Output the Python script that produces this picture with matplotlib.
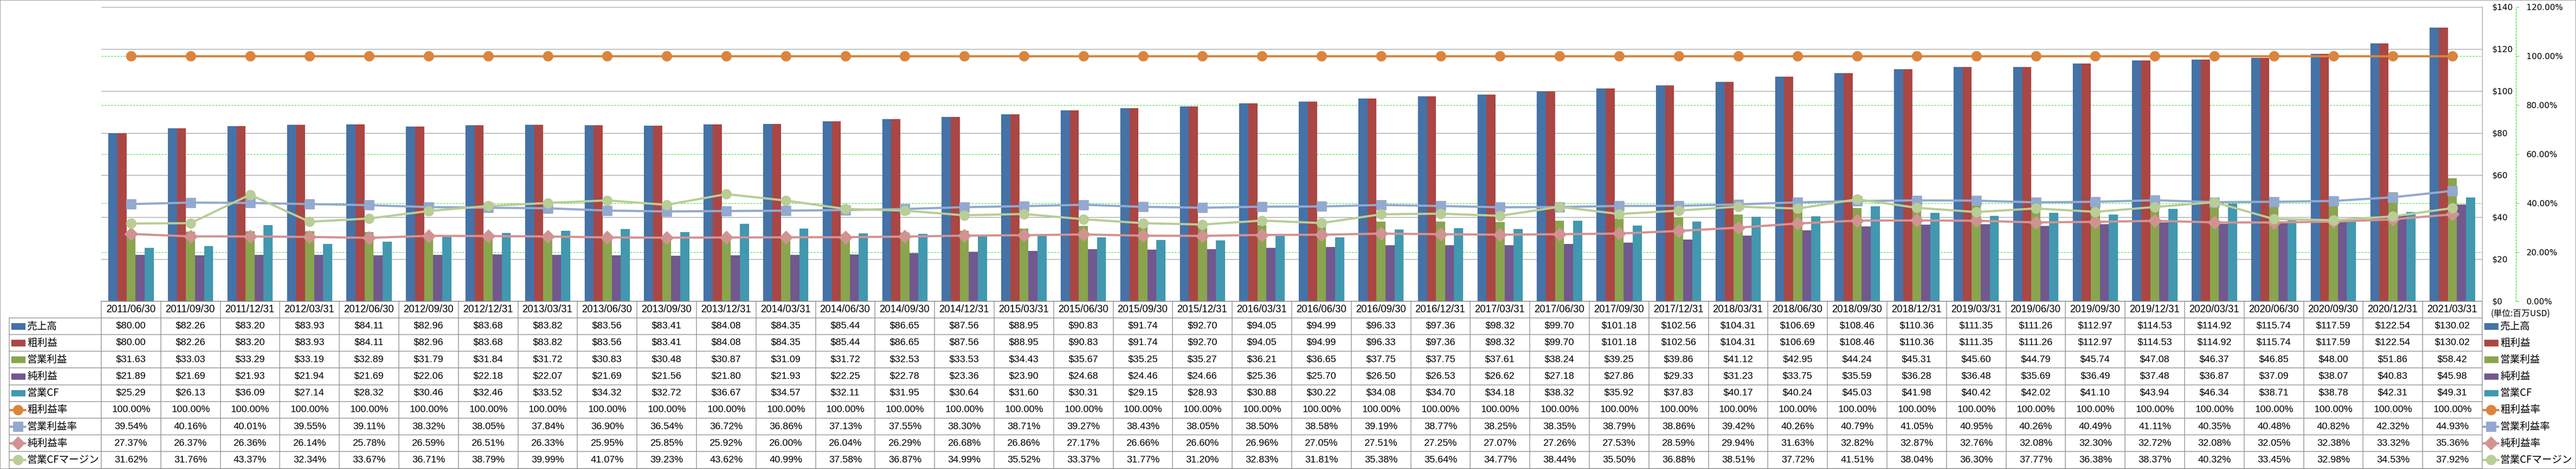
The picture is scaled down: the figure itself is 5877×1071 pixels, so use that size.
# %%
import matplotlib
matplotlib.use('Agg')
import matplotlib.pyplot as plt
from matplotlib.transforms import blended_transform_factory
from matplotlib.patches import Rectangle

plt.rcParams['font.family'] = ['Liberation Sans', 'Noto Sans CJK JP']

# %%
# 決算データ (百万USD)
dates = ['2011/06/30', '2011/09/30', '2011/12/31', '2012/03/31', '2012/06/30', '2012/09/30',
         '2012/12/31', '2013/03/31', '2013/06/30', '2013/09/30', '2013/12/31', '2014/03/31',
         '2014/06/30', '2014/09/30', '2014/12/31', '2015/03/31', '2015/06/30', '2015/09/30',
         '2015/12/31', '2016/03/31', '2016/06/30', '2016/09/30', '2016/12/31', '2017/03/31',
         '2017/06/30', '2017/09/30', '2017/12/31', '2018/03/31', '2018/06/30', '2018/09/30',
         '2018/12/31', '2019/03/31', '2019/06/30', '2019/09/30', '2019/12/31', '2020/03/31',
         '2020/06/30', '2020/09/30', '2020/12/31', '2021/03/31']

sales = [80.00, 82.26, 83.20, 83.93, 84.11, 82.96, 83.68, 83.82, 83.56, 83.41,
         84.08, 84.35, 85.44, 86.65, 87.56, 88.95, 90.83, 91.74, 92.70, 94.05,
         94.99, 96.33, 97.36, 98.32, 99.70, 101.18, 102.56, 104.31, 106.69, 108.46,
         110.36, 111.35, 111.26, 112.97, 114.53, 114.92, 115.74, 117.59, 122.54, 130.02]
gross_profit = [80.00, 82.26, 83.20, 83.93, 84.11, 82.96, 83.68, 83.82, 83.56, 83.41,
                84.08, 84.35, 85.44, 86.65, 87.56, 88.95, 90.83, 91.74, 92.70, 94.05,
                94.99, 96.33, 97.36, 98.32, 99.70, 101.18, 102.56, 104.31, 106.69, 108.46,
                110.36, 111.35, 111.26, 112.97, 114.53, 114.92, 115.74, 117.59, 122.54, 130.02]
op_income = [31.63, 33.03, 33.29, 33.19, 32.89, 31.79, 31.84, 31.72, 30.83, 30.48,
             30.87, 31.09, 31.72, 32.53, 33.53, 34.43, 35.67, 35.25, 35.27, 36.21,
             36.65, 37.75, 37.75, 37.61, 38.24, 39.25, 39.86, 41.12, 42.95, 44.24,
             45.31, 45.60, 44.79, 45.74, 47.08, 46.37, 46.85, 48.00, 51.86, 58.42]
net_income = [21.89, 21.69, 21.93, 21.94, 21.69, 22.06, 22.18, 22.07, 21.69, 21.56,
              21.80, 21.93, 22.25, 22.78, 23.36, 23.90, 24.68, 24.46, 24.66, 25.36,
              25.70, 26.50, 26.53, 26.62, 27.18, 27.86, 29.33, 31.23, 33.75, 35.59,
              36.28, 36.48, 35.69, 36.49, 37.48, 36.87, 37.09, 38.07, 40.83, 45.98]
op_cf = [25.29, 26.13, 36.09, 27.14, 28.32, 30.46, 32.46, 33.52, 34.32, 32.72,
         36.67, 34.57, 32.11, 31.95, 30.64, 31.60, 30.31, 29.15, 28.93, 30.88,
         30.22, 34.08, 34.70, 34.18, 38.32, 35.92, 37.83, 40.17, 40.24, 45.03,
         41.98, 40.42, 42.02, 41.10, 43.94, 46.34, 38.71, 38.78, 42.31, 49.31]

# 比率 (%)
gross_margin = [100.00] * 40
op_margin = [39.54, 40.16, 40.01, 39.55, 39.11, 38.32, 38.05, 37.84, 36.90, 36.54,
             36.72, 36.86, 37.13, 37.55, 38.30, 38.71, 39.27, 38.43, 38.05, 38.50,
             38.58, 39.19, 38.77, 38.25, 38.35, 38.79, 38.86, 39.42, 40.26, 40.79,
             41.05, 40.95, 40.26, 40.49, 41.11, 40.35, 40.48, 40.82, 42.32, 44.93]
net_margin = [27.37, 26.37, 26.36, 26.14, 25.78, 26.59, 26.51, 26.33, 25.95, 25.85,
              25.92, 26.00, 26.04, 26.29, 26.68, 26.86, 27.17, 26.66, 26.60, 26.96,
              27.05, 27.51, 27.25, 27.07, 27.26, 27.53, 28.59, 29.94, 31.63, 32.82,
              32.87, 32.76, 32.08, 32.30, 32.72, 32.08, 32.05, 32.38, 33.32, 35.36]
cf_margin = [31.62, 31.76, 43.37, 32.34, 33.67, 36.71, 38.79, 39.99, 41.07, 39.23,
             43.62, 40.99, 37.58, 36.87, 34.99, 35.52, 33.37, 31.77, 31.20, 32.83,
             31.81, 35.38, 35.64, 34.77, 38.44, 35.50, 36.88, 38.51, 37.72, 41.51,
             38.04, 36.30, 37.77, 36.38, 38.37, 40.32, 33.45, 32.98, 34.53, 37.92]

bar_names = ['売上高', '粗利益', '営業利益', '純利益', '営業CF']
line_names = ['粗利益率', '営業利益率', '純利益率', '営業CFマージン']
bar_data = [sales, gross_profit, op_income, net_income, op_cf]
line_data = [gross_margin, op_margin, net_margin, cf_margin]

bar_colors = ['#4572A7', '#AA4643', '#89A54E', '#71588F', '#4198AF']
line_colors = ['#DB843D', '#93A9CF', '#D19392', '#B9CD96']
line_markers = ['o', 's', 'D', 'o']
marker_sizes = [16, 15.5, 15, 16]

# %%
W, H = 5877, 1071
fig = plt.figure(figsize=(W / 100, H / 100), dpi=100)
fig.patches.append(Rectangle((0, 0), 1, 1, transform=fig.transFigure, fill=False,
                             edgecolor='#8c8c8c', lw=1.5))

x_left, x_right = 231, 5663
y_top, y_bottom = 15.5, 687.5
ax = fig.add_axes([x_left / W, 1 - y_bottom / H, (x_right - x_left) / W, (y_bottom - y_top) / H])
ax2 = ax.twinx()

n = len(dates)
xs = list(range(n))
bw = 0.152
for k, (vals, col) in enumerate(zip(bar_data, bar_colors)):
    ax.bar([x + (k - 2) * bw for x in xs], vals, width=bw, color=col, zorder=2)

# 第2軸のグリッド (緑の破線) は棒の後ろに
green = '#00e000'
trans = blended_transform_factory(ax.transAxes, ax2.transData)
for v in [20, 40, 60, 80, 100]:
    ax.plot([0, 1], [v, v], transform=trans, color=green, lw=0.8,
            ls=(0, (4, 2.5)), zorder=1)

for vals, col, mk, ms in zip(line_data, line_colors, line_markers, marker_sizes):
    ax2.plot(xs, vals, color=col, lw=3.6, marker=mk, ms=ms, mfc=col, mec=col, zorder=3)

ax.set_xlim(-0.5, n - 0.5)
ax.set_ylim(0, 140)
ax2.set_ylim(0, 120)
ax.set_xticks([])

ax.set_yticks(range(0, 141, 20))
ax.yaxis.grid(True, color='#8a8a8a', lw=0.8)
ax.set_axisbelow(True)
ax.yaxis.tick_right()
ax.yaxis.set_major_formatter(lambda v, p: f'${v:.0f}')
ax.tick_params(axis='y', length=0, pad=16, labelsize=13.5, labelfontfamily='DejaVu Sans')

ax2.set_yticks(range(0, 121, 20))
ax2.yaxis.set_major_formatter(lambda v, p: f'{v:.2f}%')
ax2.spines['right'].set_position(('outward', 55.5))
ax2.spines['right'].set_color(green)
ax2.spines['right'].set_linestyle((0, (4, 2.5)))
ax2.spines['right'].set_linewidth(0.8)
ax2.tick_params(axis='y', length=5, width=0.8, color=green, pad=12,
                labelsize=13.5, labelfontfamily='DejaVu Sans', labelcolor='black')

for s in ['top', 'left']:
    ax.spines[s].set_visible(False)
ax.spines['right'].set_color('#8a8a8a')
ax.spines['bottom'].set_color('#8a8a8a')
for s in ['top', 'left', 'bottom']:
    ax2.spines[s].set_visible(False)

# %%
# データテーブル
t_top, t_bottom = 687.5, 1069.5
tax = fig.add_axes([x_left / W, 1 - t_bottom / H, (x_right - x_left) / W, (t_bottom - t_top) / H])
tax.set_xlim(-0.5, n - 0.5)
tax.set_ylim(10, 0)
tax.axis('off')

grid_c = '#8c8c8c'
px = blended_transform_factory(fig.dpi_scale_trans, tax.transData)
tax.plot([-0.5, n - 0.5], [0, 0], color=grid_c, lw=1.1, clip_on=False)
for r in range(1, 11):
    tax.plot([0.21, x_right / 100], [r, r], transform=px, color=grid_c, lw=1.1, clip_on=False)
for c in range(n + 1):
    tax.plot([c - 0.5, c - 0.5], [0, 10], color=grid_c, lw=1.1, clip_on=False)
tax.plot([0.21, 0.21], [1, 10], transform=px, color=grid_c, lw=1.1, clip_on=False)

for i, d in enumerate(dates):
    tax.text(i, 0.5, d, ha='center', va='center', fontsize=16.5)

rows = [[f'${v:.2f}' for v in vals] for vals in bar_data] + \
       [[f'{v:.2f}%' for v in vals] for vals in line_data]
for r, cells in enumerate(rows):
    for i, s in enumerate(cells):
        tax.text(i, r + 1.5, s, ha='center', va='center', fontsize=16)


def draw_keys(x0):
    # 凡例キー: x0 は左端のピクセル位置
    for r, (name, col) in enumerate(zip(bar_names, bar_colors)):
        y = r + 1.5
        tax.add_patch(Rectangle(((x0) / 100, y - 0.18), 0.31, 0.36, transform=px,
                                color=col, clip_on=False))
        tax.text((x0 + 36) / 100, y, name, transform=px, ha='left', va='center',
                 fontsize=16.5, family=['Noto Sans CJK JP'], clip_on=False)
    for r, (name, col, mk, ms) in enumerate(zip(line_names, line_colors, line_markers, marker_sizes)):
        y = r + 6.5
        tax.plot([(x0 - 2) / 100, (x0 + 31) / 100], [y, y], transform=px, color=col,
                 lw=3.6, clip_on=False)
        tax.plot([(x0 + 14.5) / 100], [y], transform=px, marker=mk, ms=ms, color=col,
                 clip_on=False)
        tax.text((x0 + 36) / 100, y, name, transform=px, ha='left', va='center',
                 fontsize=16.5, family=['Noto Sans CJK JP'], clip_on=False)


draw_keys(26)
draw_keys(5668)

fig.text(5682 / W, 1 - 717 / H, '(単位:百万USD)', ha='left', va='center',
         fontsize=14, family=['Noto Sans CJK JP', 'DejaVu Sans'])

fig.savefig('out.png', dpi=100)
